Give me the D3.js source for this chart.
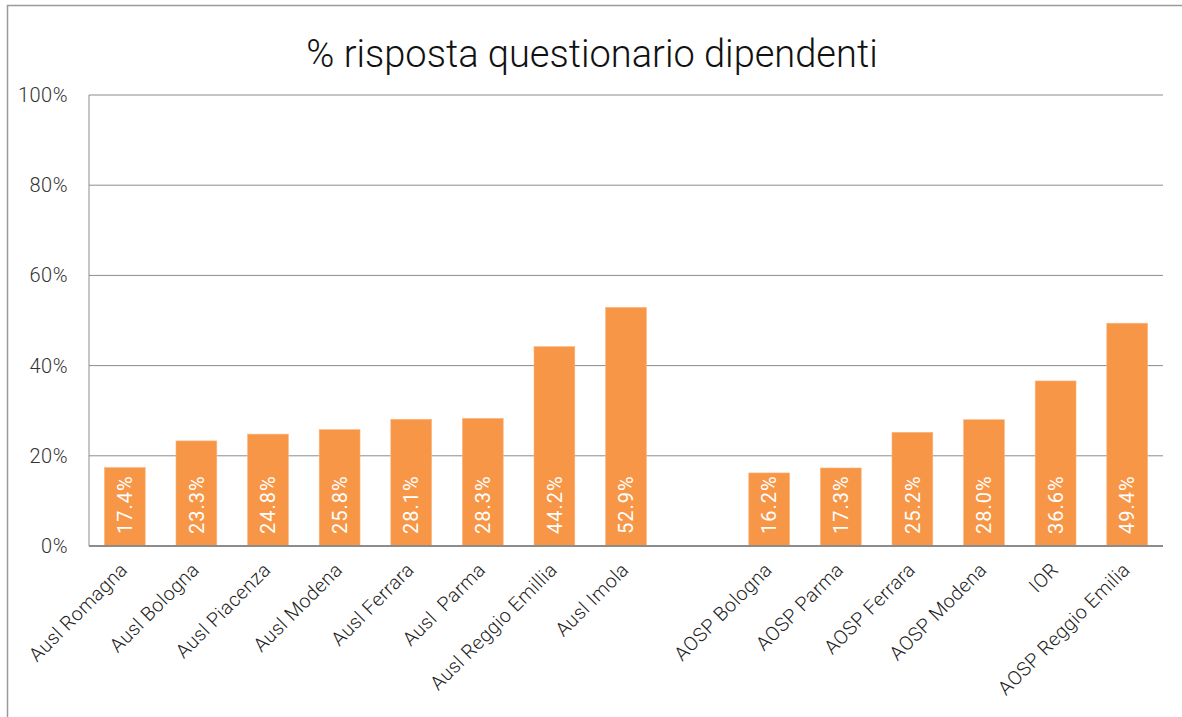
<!DOCTYPE html>
<html>
<head>
<meta charset="utf-8">
<script src="https://cdn.jsdelivr.net/npm/d3@7"></script>
<style>
  body { margin: 0; background: #fff; }
  svg text { font-family: Roboto, "DejaVu Sans", sans-serif; }
</style>
</head>
<body>
<svg id="chart" width="1182" height="717"></svg>
<script>
// data
let categories = ['Ausl Romagna', 'Ausl Bologna', 'Ausl Piacenza', 'Ausl Modena', 'Ausl Ferrara',
    'Ausl  Parma', 'Ausl Reggio Emillia', 'Ausl Imola', '',
    'AOSP Bologna', 'AOSP Parma', 'AOSP Ferrara', 'AOSP Modena', 'IOR', 'AOSP Reggio Emilia'];
let values = [17.4, 23.3, 24.8, 25.8, 28.1, 28.3, 44.2, 52.9, null,
    16.2, 17.3, 25.2, 28.0, 36.6, 49.4];
let yTicks = [0, 20, 40, 60, 80, 100];
let title = '% risposta questionario dipendenti';

let margin = { top: 95, right: 19, bottom: 171, left: 89 };
let svgWidth = 1182, svgHeight = 717;
let width = svgWidth - margin.left - margin.right;
let height = svgHeight - margin.top - margin.bottom;

let svg = d3.select('#chart');

// outer frame
svg.append('rect')
    .attr('x', 7.5).attr('y', 5.5)
    .attr('width', 1190).attr('height', 730)
    .attr('fill', 'none')
    .attr('stroke', '#9a9a9a')
    .attr('stroke-width', 1.5);

svg.append('text')
    .attr('x', 592)
    .attr('y', 67)
    .attr('text-anchor', 'middle')
    .attr('font-size', 38)
    .attr('font-weight', 300)
    .attr('fill', '#111')
    .text(title);

let g = svg.append('g')
    .attr('transform', 'translate(' + margin.left + ',' + margin.top + ')');

let data = categories.map((c, i) => ({ key: i, category: c, value: values[i] }));

let x = d3.scaleBand()
    .range([0, width])
    .paddingInner(0.43)
    .paddingOuter(0.215)
    .domain(data.map(d => d.key));

let y = d3.scaleLinear()
    .range([height, 0])
    .domain([0, 100]);

// gridlines
g.selectAll('.grid')
    .data(yTicks.filter(t => t > 0))
    .enter().append('line')
    .attr('x1', 0).attr('x2', width)
    .attr('y1', d => y(d)).attr('y2', d => y(d))
    .attr('stroke', '#8c8c8c')
    .attr('stroke-width', 1);

// y axis line
g.append('line')
    .attr('x1', 0).attr('x2', 0)
    .attr('y1', 0).attr('y2', height)
    .attr('stroke', '#8c8c8c');

g.selectAll('.ytick')
    .data(yTicks)
    .enter().append('text')
    .attr('x', -21)
    .attr('y', d => y(d))
    .attr('dy', '0.35em')
    .attr('text-anchor', 'end')
    .style('font-size', '20px')
    .style('font-weight', 300)
    .style('letter-spacing', '0.5px')
    .attr('fill', '#333')
    .text(d => d + '%');

let barData = data.filter(d => d.value !== null);

g.selectAll('.bar')
    .data(barData)
    .enter().append('rect')
    .attr('x', d => x(d.key))
    .attr('width', x.bandwidth())
    .attr('y', d => y(d.value))
    .attr('height', d => height - y(d.value))
    .attr('fill', '#f79646')
    .attr('stroke', '#fbb57e')
    .attr('stroke-width', 0.6);

// x axis line
g.append('line')
    .attr('x1', 0).attr('x2', width)
    .attr('y1', height).attr('y2', height)
    .attr('stroke', '#8c8c8c')
    .attr('stroke-width', 2);

// value labels inside bars
g.selectAll('.val')
    .data(barData)
    .enter().append('text')
    .attr('transform', d => 'translate(' + (x(d.key) + x.bandwidth() / 2) + ',' + (height - 12) + ') rotate(-90)')
    .attr('dy', '0.36em')
    .style('font-size', '20px')
    .style('font-weight', 400)
    .style('letter-spacing', '1px')
    .attr('fill', '#fff')
    .text(d => d.value.toFixed(1) + '%');

// category labels
g.selectAll('.cat')
    .data(data)
    .enter().append('text')
    .attr('transform', d => 'translate(' + (x(d.key) + x.bandwidth() / 2 + 4) + ',' + (height + 25) + ') rotate(-45)')
    .attr('text-anchor', 'end')
    .style('font-size', '19.5px')
    .style('font-weight', 300)
    .style('letter-spacing', '0.4px')
    .attr('fill', '#222')
    .style('white-space', 'pre')
    .text(d => d.category);
</script>
</body>
</html>
